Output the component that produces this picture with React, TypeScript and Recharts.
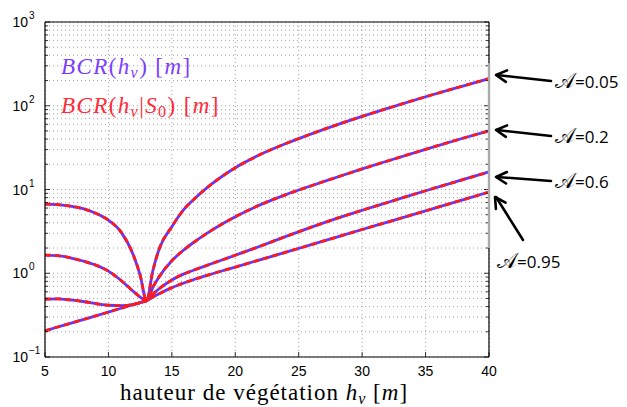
import { LineChart, Line, XAxis, YAxis, CartesianGrid } from "recharts";

// hauteur de végétation (m)
const hauteurs = [5, 6, 7, 8, 9, 10, 11, 12, 12.5, 13, 13.5, 14, 15, 16, 17, 18, 19, 20, 22, 24, 26, 28, 30, 32, 35, 38, 40];

// BCR(h_v) et BCR(h_v|S0) se superposent : mêmes valeurs lues pour les deux
const bcrA005 = [6.7, 6.6, 6.35, 5.9, 5.2, 4.3, 3.1, 1.6, 0.95, 0.47, 1.07, 1.95, 3.6, 5.9, 8.3, 11.2, 14.5, 18.2, 26.3, 35.4, 46.2, 59.2, 74.7, 93.2, 128, 173, 211];
const bcrA02 = [1.65, 1.62, 1.53, 1.4, 1.25, 1.06, 0.82, 0.6, 0.52, 0.47, 0.68, 0.91, 1.41, 1.93, 2.5, 3.16, 3.9, 4.73, 6.6, 8.7, 11.1, 14.0, 17.6, 21.9, 30.2, 41.2, 50.1];
const bcrA06 = [0.49, 0.495, 0.48, 0.46, 0.435, 0.415, 0.41, 0.425, 0.445, 0.47, 0.562, 0.653, 0.832, 0.989, 1.127, 1.279, 1.449, 1.641, 2.113, 2.754, 3.548, 4.519, 5.649, 7.0, 9.66, 13.18, 16.2];
const bcrA095 = [0.205, 0.228, 0.252, 0.28, 0.31, 0.344, 0.382, 0.424, 0.447, 0.47, 0.519, 0.569, 0.673, 0.771, 0.867, 0.966, 1.072, 1.186, 1.455, 1.786, 2.198, 2.704, 3.327, 4.083, 5.559, 7.586, 9.333];

const seriesKeys = ["a005", "a02", "a06", "a095"];
const xTicks = [5, 10, 15, 20, 25, 30, 35, 40];
const decades = [0.1, 1, 10, 100, 1000];
const minors = [1, 2, 3, 4, 5, 6, 7, 8, 9];

const yTicks: number[] = [];
decades.forEach((d) => {
  if (d === 1000) yTicks.push(d);
  else minors.forEach((m) => yTicks.push(+(d * m).toPrecision(3)));
});

const data = hauteurs.map((h, i) => ({
  h,
  a005: bcrA005[i],
  a02: bcrA02[i],
  a06: bcrA06[i],
  a095: bcrA095[i],
}));

const BLUE = "#6633ff";
const RED = "#ff1a1a";
const SANS = "'Liberation Sans', Arial, sans-serif";
const SERIF = "'Liberation Serif', 'Times New Roman', serif";

const isMajor = (v: number) => {
  const l = Math.log10(v);
  return Math.abs(l - Math.round(l)) < 1e-6;
};

const LeftTick = (props: any) => {
  const { x, y, payload } = props;
  const v = payload.value;
  const major = isMajor(v);
  const exp = Math.round(Math.log10(v));
  return (
    <g>
      <line x1={x} x2={x + (major ? 5 : 3)} y1={y} y2={y} stroke="#000" strokeWidth={0.8} />
      {major && (
        <>
          <text x={x - 17} y={y + 5} textAnchor="end" fontFamily={SANS} fontSize={14} fill="#000">
            10
          </text>
          <text x={x - 16} y={y - 3} textAnchor="start" fontFamily={SANS} fontSize={10} fill="#000">
            {exp < 0 ? "\u2212" + Math.abs(exp) : exp}
          </text>
        </>
      )}
    </g>
  );
};

const RightTick = (props: any) => {
  const { x, y, payload } = props;
  const major = isMajor(payload.value);
  return <line x1={x - (major ? 5 : 3)} x2={x} y1={y} y2={y} stroke="#000" strokeWidth={0.8} />;
};

const BottomTick = (props: any) => {
  const { x, y, payload } = props;
  return (
    <g>
      <line x1={x} x2={x} y1={y} y2={y - 5} stroke="#000" strokeWidth={0.8} />
      <text x={x} y={y + 19} textAnchor="middle" fontFamily={SANS} fontSize={14} fill="#000">
        {payload.value}
      </text>
    </g>
  );
};

function Arrow({ tip, tail }: { tip: [number, number]; tail: [number, number] }) {
  const [tx, ty] = tip;
  const [sx, sy] = tail;
  const ang = Math.atan2(sy - ty, sx - tx);
  const len = 12;
  const spread = 0.5;
  const p1 = [tx + len * Math.cos(ang + spread), ty + len * Math.sin(ang + spread)];
  const p2 = [tx + len * Math.cos(ang - spread), ty + len * Math.sin(ang - spread)];
  return (
    <g stroke="#000" strokeWidth={2.6} fill="none" strokeLinecap="round" strokeLinejoin="round">
      <line x1={tx + 1} y1={ty} x2={sx} y2={sy} />
      <polyline points={`${p1[0]},${p1[1]} ${tx},${ty} ${p2[0]},${p2[1]}`} />
    </g>
  );
}

const annotations: { label: string; tip: [number, number]; tail: [number, number]; tx: number; ty: number }[] = [
  { label: "0.05", tip: [496, 75], tail: [551, 81], tx: 555, ty: 88 },
  { label: "0.2", tip: [496, 130], tail: [551, 136], tx: 555, ty: 143 },
  { label: "0.6", tip: [496, 177], tail: [551, 181], tx: 555, ty: 188 },
  { label: "0.95", tip: [495, 197], tail: [523, 240], tx: 497, ty: 268 },
];

export default function App() {
  return (
    <div style={{ position: "absolute", left: 0, top: 0, width: 627, height: 407, background: "#fff" }}>
      <LineChart width={627} height={407} data={data} margin={{ top: 21, right: 137, left: 0, bottom: 0 }}>
        <CartesianGrid stroke="#8c8c8c" strokeWidth={0.8} strokeDasharray="1 3" />
        <XAxis
          dataKey="h"
          type="number"
          domain={[5, 40]}
          ticks={xTicks}
          height={50}
          axisLine={{ stroke: "#000", strokeWidth: 1.2 }}
          tickLine={false}
          tickSize={0}
          tickMargin={0}
          tick={<BottomTick />}
          interval={0}
        />
        <XAxis
          xAxisId="t"
          orientation="top"
          type="number"
          domain={[5, 40]}
          height={1}
          axisLine={{ stroke: "#000", strokeWidth: 1.2 }}
          tickLine={false}
          tick={false}
        />
        <YAxis
          type="number"
          scale="log"
          domain={[0.1, 1000]}
          allowDataOverflow
          ticks={yTicks}
          width={45}
          axisLine={{ stroke: "#000", strokeWidth: 1.2 }}
          tickLine={false}
          tickSize={0}
          tickMargin={0}
          tick={<LeftTick />}
          interval={0}
        />
        <YAxis
          yAxisId="r"
          orientation="right"
          type="number"
          scale="log"
          domain={[0.1, 1000]}
          allowDataOverflow
          ticks={yTicks}
          width={1}
          axisLine={{ stroke: "#000", strokeWidth: 1.2 }}
          tickLine={false}
          tickSize={0}
          tickMargin={0}
          tick={<RightTick />}
          interval={0}
        />
        {seriesKeys.map((k) => (
          <Line
            key={"b" + k}
            dataKey={k}
            type="monotone"
            stroke={BLUE}
            strokeWidth={2.8}
            dot={false}
            isAnimationActive={false}
          />
        ))}
        {seriesKeys.map((k) => (
          <Line
            key={"r" + k}
            dataKey={k}
            type="monotone"
            stroke={RED}
            strokeWidth={2.8}
            strokeDasharray="6 4"
            dot={false}
            isAnimationActive={false}
          />
        ))}
      </LineChart>

      <svg
        width={627}
        height={407}
        style={{ position: "absolute", left: 0, top: 0, pointerEvents: "none" }}
      >
        <line x1={489} x2={489} y1={63} y2={248} stroke="#aaa" strokeWidth={2.4} />

        <text x={61} y={74} fill="#7d3cff" fontFamily={SERIF} fontSize={23} letterSpacing={1.4}>
          <tspan fontStyle="italic">BCR</tspan>(<tspan fontStyle="italic">h</tspan>
          <tspan fontStyle="italic" fontSize={16} dy={4}>v</tspan>
          <tspan dy={-4}>)  [</tspan>
          <tspan fontStyle="italic">m</tspan>]
        </text>
        <text x={61} y={113} fill="#ff2a3a" fontFamily={SERIF} fontSize={23} letterSpacing={1.4}>
          <tspan fontStyle="italic">BCR</tspan>(<tspan fontStyle="italic">h</tspan>
          <tspan fontStyle="italic" fontSize={16} dy={4}>v</tspan>
          <tspan dy={-4}>|</tspan>
          <tspan fontStyle="italic">S</tspan>
          <tspan fontSize={16} dy={4}>0</tspan>
          <tspan dy={-4}>)  [</tspan>
          <tspan fontStyle="italic">m</tspan>]
        </text>

        <text x={120} y={400} fill="#000" fontFamily={SERIF} fontSize={23} letterSpacing={1}>
          hauteur de végétation <tspan fontStyle="italic">h</tspan>
          <tspan fontStyle="italic" fontSize={16} dy={4}>v</tspan>
          <tspan dy={-4}> [</tspan>
          <tspan fontStyle="italic">m</tspan>]
        </text>

        {annotations.map((a) => (
          <g key={a.label}>
            <Arrow tip={a.tip} tail={a.tail} />
            <text x={a.tx} y={a.ty} fill="#000" fontFamily="'Open Sans', 'DejaVu Sans', sans-serif" fontSize={17}>
              <tspan fontSize={21}>{"\u{1D49C}"}</tspan>={a.label}
            </text>
          </g>
        ))}
      </svg>
    </div>
  );
}
